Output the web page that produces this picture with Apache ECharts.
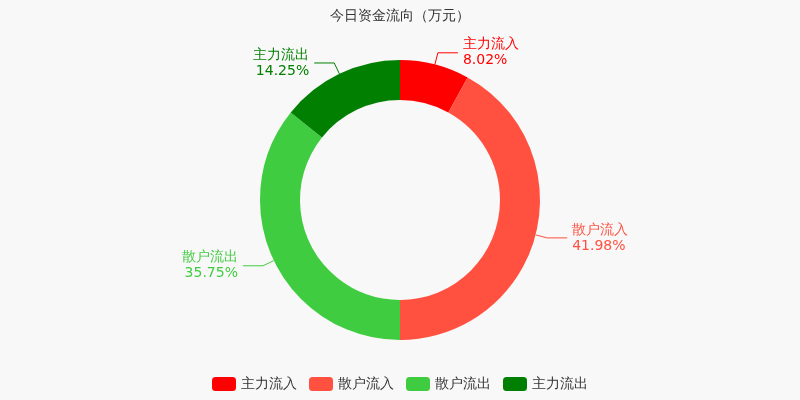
<!DOCTYPE html>
<html>
<head>
<meta charset="utf-8">
<script src="https://cdn.jsdelivr.net/npm/echarts@6/dist/echarts.min.js"></script>
<style>html,body{margin:0;padding:0;background:#f8f8f8}#chart{width:800px;height:400px}</style>
</head>
<body>
<div id="chart"></div>
<script>
var names = ["主力流入", "散户流入", "散户流出", "主力流出"];
var values = [8.02, 41.98, 35.75, 14.25];
var colors = ["#ff0000", "#ff5040", "#40cc40", "#007f00"];

var chart = echarts.init(document.getElementById("chart"));
chart.setOption({
  backgroundColor: "#f8f8f8",
  title: {
    text: "今日资金流向（万元）",
    left: "center",
    top: 4,
    textStyle: { fontSize: 14, fontWeight: "normal", color: "#333", fontFamily: "DejaVu Sans" }
  },
  color: colors,
  legend: {
    bottom: 4,
    itemWidth: 24,
    itemHeight: 14,
    itemGap: 12,
    icon: "roundRect",
    textStyle: { fontSize: 14, color: "#333", fontFamily: "DejaVu Sans" },
    data: names
  },
  series: [{
    type: "pie",
    center: ["50%", "50%"],
    radius: [100, 140],
    startAngle: 90,
    clockwise: true,
    label: {
      formatter: function (p) { return p.name + "\n" + p.value.toFixed(2) + "%"; },
      fontSize: 14,
      lineHeight: 16,
      fontFamily: "DejaVu Sans",
      color: "inherit"
    },
    labelLine: { length: 12, length2: 20 },
    data: names.map(function (n, i) { return { name: n, value: values[i], label: { color: colors[i] } }; })
  }]
});
</script>
</body>
</html>
